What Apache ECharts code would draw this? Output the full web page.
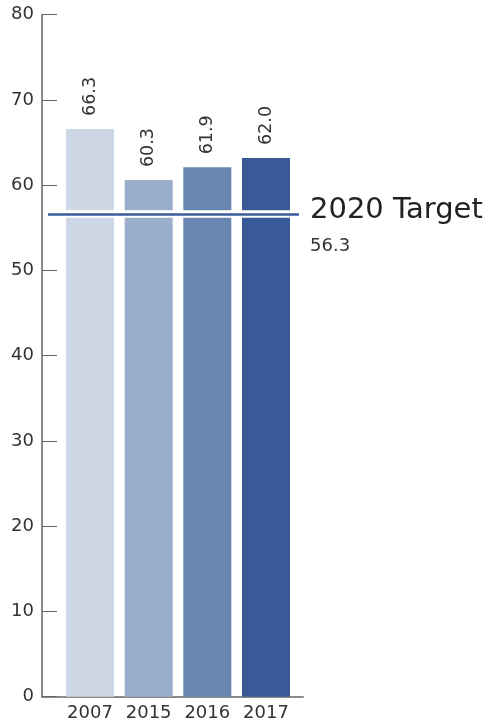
<!DOCTYPE html>
<html>
<head>
<meta charset="utf-8">
<script src="https://cdn.jsdelivr.net/npm/echarts@6/dist/echarts.min.js"></script>
<style>
html,body{margin:0;padding:0;background:#fff;}
#chart{width:493px;height:724px;}
</style>
</head>
<body>
<div id="chart"></div>
<script>
// Data
const categories = ["2007", "2015", "2016", "2017"];
const barHeights = [66.6, 60.6, 62.1, 63.2];          // bar heights as drawn
const barLabels = ["66.3", "60.3", "61.9", "62.0"];  // printed values
const barColors = ["#cdd7e6", "#9aaecb", "#6886b1", "#385b97"];
const targetValue = 56.6;        // line position as drawn
const targetLabel = "56.3";
const targetTitle = "2020 Target";
const yTicks = [0, 10, 20, 30, 40, 50, 60, 70, 80];

const FONT = "DejaVu Sans";
const chart = echarts.init(document.getElementById('chart'));

const xMin = -0.818, xMax = 3.631;

chart.setOption({
  animation: false,
  grid: {left: 42, right: 190, top: 14.7, bottom: 27.3},
  xAxis: {
    type: 'value', min: xMin, max: xMax,
    splitLine: {show: false},
    axisLine: {show: true, onZero: false, lineStyle: {color: '#8a8a8a', width: 2}},
    axisTick: {show: false},
    axisLabel: {
      show: true,
      customValues: categories.map((c, i) => i),
      formatter: v => categories[Math.round(v)],
      fontFamily: FONT, fontSize: 18, color: '#333', margin: 8
    }
  },
  yAxis: {
    type: 'value', min: yTicks[0], max: yTicks[yTicks.length - 1], interval: 10,
    splitLine: {show: false},
    axisLine: {show: true, onZero: false, lineStyle: {color: '#8a8a8a', width: 2}},
    axisTick: {show: true, inside: true, length: 15, lineStyle: {color: '#666', width: 1}},
    axisLabel: {fontFamily: FONT, fontSize: 18, color: '#333', margin: 8}
  },
  series: [{
    type: 'bar',
    barWidth: 48,
    data: barHeights.map((v, i) => ({value: [i, v], itemStyle: {color: barColors[i]}})),
    label: {
      show: true, position: 'top', rotate: 90, distance: 13,
      align: 'left', verticalAlign: 'middle',
      fontFamily: FONT, fontSize: 17.5, color: '#333',
      formatter: p => barLabels[p.dataIndex]
    },
    markLine: {
      silent: true, symbol: 'none', animation: false,
      data: [
        [{coord: [-0.55, targetValue], lineStyle: {color: '#ffffff', width: 7.7, type: 'solid'}, label: {show: false}},
         {coord: [3.563, targetValue]}],
        [{coord: [-0.716, targetValue], lineStyle: {color: '#3a5b9b', width: 2.5, type: 'solid'},
          label: {
            show: true, position: 'end', distance: 11,
            formatter: '{a|' + targetTitle + '}\n{b|' + targetLabel + '}',
            padding: [24, 0, 0, 0],
            rich: {
              a: {fontFamily: FONT, fontSize: 29, color: '#222', lineHeight: 40},
              b: {fontFamily: FONT, fontSize: 18, color: '#333', lineHeight: 31}
            }
          }},
         {coord: [3.563, targetValue]}]
      ]
    }
  }]
});
</script>
</body>
</html>
